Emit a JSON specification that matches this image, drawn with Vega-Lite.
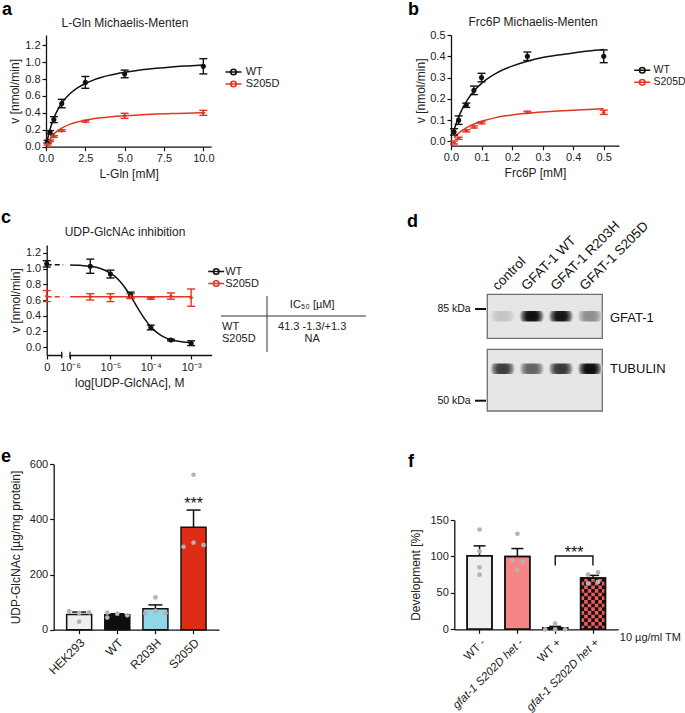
{
"$schema":"https://vega.github.io/schema/vega-lite/v6.json",
"width":685,"height":713,"autosize":"none","padding":0,"background":"white",
"config":{
 "font":"Liberation Sans",
 "view":{"stroke":null},
 "axis":{"grid":false,"domainColor":"#111111","domainWidth":1.3,"tickColor":"#111111","tickWidth":1.2,"tickSize":4,"labelFont":"Liberation Sans","labelFontSize":11,"labelColor":"#222222","titleFont":"Liberation Sans","titleFontSize":12,"titleFontWeight":"normal","titleColor":"#222222","labelPadding":2,"labelFlush":false,"labelOverlap":false},
 "legend":{"labelFont":"Liberation Sans","labelFontSize":11,"labelColor":"#222222"},
 "text":{"font":"Liberation Sans","color":"#222222"}
},
"datasets":{
 "a_pts":[
  {"genotype":"WT","conc":0.1,"v":0.06,"lo":0.045,"hi":0.075},
  {"genotype":"WT","conc":0.25,"v":0.17,"lo":0.15,"hi":0.19},
  {"genotype":"WT","conc":0.5,"v":0.32,"lo":0.285,"hi":0.355},
  {"genotype":"WT","conc":1,"v":0.51,"lo":0.46,"hi":0.56},
  {"genotype":"WT","conc":2.5,"v":0.76,"lo":0.69,"hi":0.83},
  {"genotype":"WT","conc":5,"v":0.86,"lo":0.815,"hi":0.905},
  {"genotype":"WT","conc":10,"v":0.95,"lo":0.86,"hi":1.04},
  {"genotype":"S205D","conc":0.1,"v":0.03,"lo":0.02,"hi":0.04},
  {"genotype":"S205D","conc":0.25,"v":0.07,"lo":0.06,"hi":0.08},
  {"genotype":"S205D","conc":0.5,"v":0.12,"lo":0.11,"hi":0.13},
  {"genotype":"S205D","conc":1,"v":0.19,"lo":0.18,"hi":0.2},
  {"genotype":"S205D","conc":2.5,"v":0.3,"lo":0.29,"hi":0.31},
  {"genotype":"S205D","conc":5,"v":0.365,"lo":0.335,"hi":0.395},
  {"genotype":"S205D","conc":10,"v":0.4,"lo":0.37,"hi":0.43}
 ],
 "a_fit":[
  {"genotype":"WT","conc":0.1,"v":0.091},{"genotype":"WT","conc":0.25,"v":0.201},{"genotype":"WT","conc":0.5,"v":0.339},{"genotype":"WT","conc":0.75,"v":0.439},{"genotype":"WT","conc":1,"v":0.514},{"genotype":"WT","conc":1.5,"v":0.622},{"genotype":"WT","conc":2,"v":0.695},{"genotype":"WT","conc":2.5,"v":0.747},{"genotype":"WT","conc":3,"v":0.787},{"genotype":"WT","conc":3.5,"v":0.818},{"genotype":"WT","conc":4,"v":0.843},{"genotype":"WT","conc":5,"v":0.88},{"genotype":"WT","conc":6,"v":0.907},{"genotype":"WT","conc":7,"v":0.927},{"genotype":"WT","conc":8,"v":0.943},{"genotype":"WT","conc":9,"v":0.955},{"genotype":"WT","conc":10,"v":0.966},
  {"genotype":"S205D","conc":0.1,"v":0.04},{"genotype":"S205D","conc":0.25,"v":0.088},{"genotype":"S205D","conc":0.5,"v":0.147},{"genotype":"S205D","conc":0.75,"v":0.189},{"genotype":"S205D","conc":1,"v":0.22},{"genotype":"S205D","conc":1.5,"v":0.264},{"genotype":"S205D","conc":2,"v":0.293},{"genotype":"S205D","conc":2.5,"v":0.314},{"genotype":"S205D","conc":3,"v":0.33},{"genotype":"S205D","conc":3.5,"v":0.342},{"genotype":"S205D","conc":4,"v":0.352},{"genotype":"S205D","conc":5,"v":0.367},{"genotype":"S205D","conc":6,"v":0.377},{"genotype":"S205D","conc":7,"v":0.385},{"genotype":"S205D","conc":8,"v":0.391},{"genotype":"S205D","conc":9,"v":0.396},{"genotype":"S205D","conc":10,"v":0.4}
 ],
 "b_pts":[
  {"genotype":"WT","conc":0.01,"v":0.045,"lo":0.03,"hi":0.06},
  {"genotype":"WT","conc":0.025,"v":0.1,"lo":0.08,"hi":0.12},
  {"genotype":"WT","conc":0.05,"v":0.17,"lo":0.16,"hi":0.18},
  {"genotype":"WT","conc":0.075,"v":0.24,"lo":0.22,"hi":0.26},
  {"genotype":"WT","conc":0.1,"v":0.3,"lo":0.28,"hi":0.32},
  {"genotype":"WT","conc":0.25,"v":0.4,"lo":0.38,"hi":0.42},
  {"genotype":"WT","conc":0.5,"v":0.4,"lo":0.37,"hi":0.43},
  {"genotype":"S205D","conc":0.01,"v":-0.005,"lo":-0.012,"hi":0.002},
  {"genotype":"S205D","conc":0.025,"v":0.015,"lo":0.01,"hi":0.02},
  {"genotype":"S205D","conc":0.05,"v":0.05,"lo":0.045,"hi":0.055},
  {"genotype":"S205D","conc":0.075,"v":0.068,"lo":0.063,"hi":0.073},
  {"genotype":"S205D","conc":0.1,"v":0.088,"lo":0.083,"hi":0.093},
  {"genotype":"S205D","conc":0.25,"v":0.137,"lo":0.132,"hi":0.142},
  {"genotype":"S205D","conc":0.5,"v":0.137,"lo":0.127,"hi":0.147}
 ],
 "b_fit":[
  {"genotype":"WT","conc":0.01,"v":0.053},{"genotype":"WT","conc":0.02,"v":0.096},{"genotype":"WT","conc":0.03,"v":0.132},{"genotype":"WT","conc":0.05,"v":0.187},{"genotype":"WT","conc":0.075,"v":0.237},{"genotype":"WT","conc":0.1,"v":0.273},{"genotype":"WT","conc":0.15,"v":0.322},{"genotype":"WT","conc":0.2,"v":0.354},{"genotype":"WT","conc":0.25,"v":0.377},{"genotype":"WT","conc":0.3,"v":0.394},{"genotype":"WT","conc":0.35,"v":0.406},{"genotype":"WT","conc":0.4,"v":0.416},{"genotype":"WT","conc":0.45,"v":0.425},{"genotype":"WT","conc":0.5,"v":0.432},
  {"genotype":"S205D","conc":0.01,"v":0.018},{"genotype":"S205D","conc":0.02,"v":0.033},{"genotype":"S205D","conc":0.03,"v":0.045},{"genotype":"S205D","conc":0.05,"v":0.064},{"genotype":"S205D","conc":0.075,"v":0.082},{"genotype":"S205D","conc":0.1,"v":0.095},{"genotype":"S205D","conc":0.15,"v":0.113},{"genotype":"S205D","conc":0.2,"v":0.124},{"genotype":"S205D","conc":0.25,"v":0.132},{"genotype":"S205D","conc":0.3,"v":0.138},{"genotype":"S205D","conc":0.35,"v":0.143},{"genotype":"S205D","conc":0.4,"v":0.147},{"genotype":"S205D","conc":0.45,"v":0.15},{"genotype":"S205D","conc":0.5,"v":0.153}
 ],
 "c_pts":[
  {"genotype":"WT","logc":-6.58,"v":1.06,"lo":1.02,"hi":1.1},
  {"genotype":"WT","logc":-5.5,"v":1.03,"lo":0.94,"hi":1.12},
  {"genotype":"WT","logc":-5,"v":0.93,"lo":0.88,"hi":0.98},
  {"genotype":"WT","logc":-4.5,"v":0.66,"lo":0.62,"hi":0.7},
  {"genotype":"WT","logc":-4,"v":0.25,"lo":0.22,"hi":0.28},
  {"genotype":"WT","logc":-3.5,"v":0.09,"lo":0.08,"hi":0.1},
  {"genotype":"WT","logc":-3,"v":0.05,"lo":0.02,"hi":0.08},
  {"genotype":"S205D","logc":-6.58,"v":0.65,"lo":0.58,"hi":0.72},
  {"genotype":"S205D","logc":-5.5,"v":0.64,"lo":0.6,"hi":0.68},
  {"genotype":"S205D","logc":-5,"v":0.63,"lo":0.58,"hi":0.68},
  {"genotype":"S205D","logc":-4.5,"v":0.65,"lo":0.62,"hi":0.68},
  {"genotype":"S205D","logc":-4,"v":0.62,"lo":0.61,"hi":0.63},
  {"genotype":"S205D","logc":-3.5,"v":0.65,"lo":0.61,"hi":0.69},
  {"genotype":"S205D","logc":-3,"v":0.63,"lo":0.52,"hi":0.74}
 ],
 "c_fit":[
  {"genotype":"WT","logc":-6,"v":1.047},{"genotype":"WT","logc":-5.75,"v":1.041},{"genotype":"WT","logc":-5.5,"v":1.029},{"genotype":"WT","logc":-5.25,"v":1.002},{"genotype":"WT","logc":-5,"v":0.943},{"genotype":"WT","logc":-4.875,"v":0.895},{"genotype":"WT","logc":-4.75,"v":0.83},{"genotype":"WT","logc":-4.625,"v":0.747},{"genotype":"WT","logc":-4.5,"v":0.649},{"genotype":"WT","logc":-4.375,"v":0.542},{"genotype":"WT","logc":-4.25,"v":0.436},{"genotype":"WT","logc":-4.125,"v":0.34},{"genotype":"WT","logc":-4,"v":0.26},{"genotype":"WT","logc":-3.875,"v":0.197},{"genotype":"WT","logc":-3.75,"v":0.151},{"genotype":"WT","logc":-3.625,"v":0.118},{"genotype":"WT","logc":-3.5,"v":0.095},{"genotype":"WT","logc":-3.25,"v":0.07},{"genotype":"WT","logc":-3,"v":0.058},
  {"genotype":"S205D","logc":-6,"v":0.64},{"genotype":"S205D","logc":-3,"v":0.64}
 ],
 "c_zero":[
  {"genotype":"WT","logc":-6.58,"v":1.05},{"genotype":"WT","logc":-6.17,"v":1.05},
  {"genotype":"S205D","logc":-6.58,"v":0.64},{"genotype":"S205D","logc":-6.17,"v":0.64}
 ],
 "blot":[
  {"protein":"GFAT-1","lane":1,"sample":"control","intensity":0.15},
  {"protein":"GFAT-1","lane":2,"sample":"GFAT-1 WT","intensity":1},
  {"protein":"GFAT-1","lane":3,"sample":"GFAT-1 R203H","intensity":0.97},
  {"protein":"GFAT-1","lane":4,"sample":"GFAT-1 S205D","intensity":0.4},
  {"protein":"TUBULIN","lane":1,"sample":"control","intensity":0.78},
  {"protein":"TUBULIN","lane":2,"sample":"GFAT-1 WT","intensity":0.6},
  {"protein":"TUBULIN","lane":3,"sample":"GFAT-1 R203H","intensity":0.8},
  {"protein":"TUBULIN","lane":4,"sample":"GFAT-1 S205D","intensity":1}
 ],
 "e_bars":[
  {"group":"HEK293","mean":55,"upper":64},
  {"group":"WT","mean":54,"upper":58},
  {"group":"R203H","mean":76,"upper":90},
  {"group":"S205D","mean":371.5,"upper":434}
 ],
 "e_pts":[
  {"group":"HEK293","slot":"L","value":67},{"group":"HEK293","slot":"C","value":61},{"group":"HEK293","slot":"C","value":29},{"group":"HEK293","slot":"R","value":63},
  {"group":"WT","slot":"L","value":62},{"group":"WT","slot":"L","value":44},{"group":"WT","slot":"C","value":58},{"group":"WT","slot":"R","value":52},
  {"group":"R203H","slot":"L","value":59},{"group":"R203H","slot":"C","value":68},{"group":"R203H","slot":"C","value":117},{"group":"R203H","slot":"R","value":60},
  {"group":"S205D","slot":"L","value":301},{"group":"S205D","slot":"C","value":316},{"group":"S205D","slot":"R","value":307},{"group":"S205D","slot":"C","value":562}
 ],
 "f_bars":[
  {"group":"WT -","mean":101,"upper":114.5},
  {"group":"gfat-1 S202D het -","mean":100,"upper":110.8},
  {"group":"WT +","mean":2,"upper":4},
  {"group":"gfat-1 S202D het +","mean":70.3,"upper":74}
 ],
 "f_pts":[
  {"group":"WT -","slot":"C","value":137},{"group":"WT -","slot":"C","value":107},{"group":"WT -","slot":"C","value":85},{"group":"WT -","slot":"C","value":75},
  {"group":"gfat-1 S202D het -","slot":"C","value":131},{"group":"gfat-1 S202D het -","slot":"l","value":95},{"group":"gfat-1 S202D het -","slot":"r","value":93},{"group":"gfat-1 S202D het -","slot":"C","value":81},
  {"group":"WT +","slot":"L","value":0},{"group":"WT +","slot":"C","value":8},{"group":"WT +","slot":"C","value":0},{"group":"WT +","slot":"R","value":0},
  {"group":"gfat-1 S202D het +","slot":"l","value":75},{"group":"gfat-1 S202D het +","slot":"r","value":78},{"group":"gfat-1 S202D het +","slot":"l","value":63},{"group":"gfat-1 S202D het +","slot":"r","value":65}
 ]
},
"layer":[
 {"layer":[
  {"data":{"name":"a_fit"},"mark":{"type":"line","strokeWidth":1.5,"interpolate":"monotone"},
   "encoding":{
    "x":{"field":"conc","type":"quantitative","scale":{"domain":[0,10.5],"range":[46,211.2],"nice":false,"zero":false},"axis":{"orient":"bottom","offset":-566.3,"values":[0,2.5,5,7.5,10],"format":".1f","title":"L-Gln [mM]","titlePadding":5}},
    "y":{"field":"v","type":"quantitative","scale":{"domain":[0,1.32],"range":[146.7,35],"nice":false,"zero":false},"axis":{"orient":"left","offset":-46,"values":[0,0.2,0.4,0.6,0.8,1,1.2],"format":".1f","title":"v [nmol/min]","titlePadding":3}},
    "color":{"field":"genotype","type":"nominal","scale":{"domain":["WT","S205D"],"range":["#111111","#e63322"]},"legend":{"orient":"none","legendX":228,"legendY":66.5,"title":null,"symbolType":"M-2,0L2,0M-0.7,0A0.7,0.7,0,1,1,0.7,0A0.7,0.7,0,1,1,-0.7,0Z","symbolSize":64,"symbolStrokeWidth":1.6,"labelOffset":6.7,"rowPadding":-1,"padding":0}}}},
  {"data":{"name":"a_pts"},"mark":{"type":"rule","strokeWidth":1.4},"encoding":{"x":{"field":"conc","type":"quantitative"},"y":{"field":"lo","type":"quantitative"},"y2":{"field":"hi"},"color":{"field":"genotype","type":"nominal"}}},
  {"data":{"name":"a_pts"},"mark":{"type":"point","shape":"stroke","size":64,"strokeWidth":1.4,"opacity":1},"encoding":{"x":{"field":"conc","type":"quantitative"},"y":{"field":"lo","type":"quantitative"},"color":{"field":"genotype","type":"nominal"}}},
  {"data":{"name":"a_pts"},"mark":{"type":"point","shape":"stroke","size":64,"strokeWidth":1.4,"opacity":1},"encoding":{"x":{"field":"conc","type":"quantitative"},"y":{"field":"hi","type":"quantitative"},"color":{"field":"genotype","type":"nominal"}}},
  {"data":{"name":"a_pts"},"transform":[{"filter":"datum.genotype == 'WT'"}],"mark":{"type":"point","shape":"circle","filled":true,"size":26,"opacity":1,"color":"#111111"},"encoding":{"x":{"field":"conc","type":"quantitative"},"y":{"field":"v","type":"quantitative"}}},
  {"data":{"name":"a_pts"},"transform":[{"filter":"datum.genotype == 'S205D'"}],"mark":{"type":"point","shape":"diamond","filled":true,"size":18,"opacity":1,"color":"#e63322"},"encoding":{"x":{"field":"conc","type":"quantitative"},"y":{"field":"v","type":"quantitative"}}},
  {"data":{"values":[{}]},"mark":{"type":"text","text":"L-Gln Michaelis-Menten","fontSize":12,"align":"center","baseline":"middle"},"encoding":{"x":{"datum":5.02,"type":"quantitative"},"y":{"datum":1.462,"type":"quantitative"}}}
 ]},
 {"layer":[
  {"data":{"name":"b_fit"},"mark":{"type":"line","strokeWidth":1.5,"interpolate":"monotone"},
   "encoding":{
    "x":{"field":"conc","type":"quantitative","scale":{"domain":[0,0.55],"range":[451,619],"nice":false,"zero":false},"axis":{"orient":"bottom","offset":-567.3,"values":[0,0.1,0.2,0.3,0.4,0.5],"format":".1f","title":"Frc6P [mM]","titlePadding":5}},
    "y":{"field":"v","type":"quantitative","scale":{"domain":[-0.02,0.5],"range":[145.7,35],"nice":false,"zero":false},"axis":{"orient":"left","offset":-451,"values":[0,0.1,0.2,0.3,0.4,0.5],"format":".1f","title":"v [nmol/min]","titlePadding":2}},
    "color":{"field":"genotype","type":"nominal","scale":{"domain":["WT","S205D"],"range":["#111111","#e63322"]},"legend":{"orient":"none","legendX":637,"legendY":65,"title":null,"symbolType":"M-2,0L2,0M-0.7,0A0.7,0.7,0,1,1,0.7,0A0.7,0.7,0,1,1,-0.7,0Z","symbolSize":64,"symbolStrokeWidth":1.6,"labelOffset":6,"labelFontSize":10.5,"rowPadding":-1,"padding":0}}}},
  {"data":{"name":"b_pts"},"mark":{"type":"rule","strokeWidth":1.4},"encoding":{"x":{"field":"conc","type":"quantitative"},"y":{"field":"lo","type":"quantitative"},"y2":{"field":"hi"},"color":{"field":"genotype","type":"nominal"}}},
  {"data":{"name":"b_pts"},"mark":{"type":"point","shape":"stroke","size":64,"strokeWidth":1.4,"opacity":1},"encoding":{"x":{"field":"conc","type":"quantitative"},"y":{"field":"lo","type":"quantitative"},"color":{"field":"genotype","type":"nominal"}}},
  {"data":{"name":"b_pts"},"mark":{"type":"point","shape":"stroke","size":64,"strokeWidth":1.4,"opacity":1},"encoding":{"x":{"field":"conc","type":"quantitative"},"y":{"field":"hi","type":"quantitative"},"color":{"field":"genotype","type":"nominal"}}},
  {"data":{"name":"b_pts"},"transform":[{"filter":"datum.genotype == 'WT'"}],"mark":{"type":"point","shape":"circle","filled":true,"size":26,"opacity":1,"color":"#111111"},"encoding":{"x":{"field":"conc","type":"quantitative"},"y":{"field":"v","type":"quantitative"}}},
  {"data":{"name":"b_pts"},"transform":[{"filter":"datum.genotype == 'S205D'"}],"mark":{"type":"point","shape":"diamond","filled":true,"size":18,"opacity":1,"color":"#e63322"},"encoding":{"x":{"field":"conc","type":"quantitative"},"y":{"field":"v","type":"quantitative"}}},
  {"data":{"values":[{}]},"mark":{"type":"text","text":"Frc6P Michaelis-Menten","fontSize":12,"align":"center","baseline":"middle"},"encoding":{"x":{"datum":0.2685,"type":"quantitative"},"y":{"datum":0.561,"type":"quantitative"}}}
 ]},
 {"layer":[
  {"data":{"name":"c_fit"},"mark":{"type":"line","strokeWidth":1.5,"interpolate":"monotone"},
   "encoding":{
    "x":{"field":"logc","type":"quantitative","scale":{"domain":[-6.58,-2.49],"range":[46.7,211.7],"nice":false,"zero":false},"axis":{"orient":"bottom","offset":-358,"values":[-6.58,-6,-5,-4,-3],"labelExpr":"datum.value < -6.5 ? '0' : datum.value == -6 ? '10⁻⁶' : datum.value == -5 ? '10⁻⁵' : datum.value == -4 ? '10⁻⁴' : '10⁻³'","title":"log[UDP-GlcNAc], M","titlePadding":5}},
    "y":{"field":"v","type":"quantitative","scale":{"domain":[-0.1,1.3],"range":[355,245],"nice":false,"zero":false},"axis":{"orient":"left","offset":-46.7,"values":[0,0.2,0.4,0.6,0.8,1,1.2],"format":".1f","title":"v [nmol/min]","titlePadding":3}},
    "color":{"field":"genotype","type":"nominal","scale":{"domain":["WT","S205D"],"range":["#111111","#e63322"]},"legend":{"orient":"none","legendX":210.7,"legendY":266,"title":null,"symbolType":"M-2,0L2,0M-0.7,0A0.7,0.7,0,1,1,0.7,0A0.7,0.7,0,1,1,-0.7,0Z","symbolSize":64,"symbolStrokeWidth":1.6,"labelOffset":3.5,"rowPadding":-9,"padding":0}}}},
  {"data":{"name":"c_zero"},"mark":{"type":"line","strokeWidth":1.5,"strokeDash":[5,3]},"encoding":{"x":{"field":"logc","type":"quantitative"},"y":{"field":"v","type":"quantitative"},"color":{"field":"genotype","type":"nominal"}}},
  {"data":{"values":[{}]},"mark":{"type":"point","filled":true,"opacity":1,"color":"#ffffff","strokeWidth":0,"size":68.9,"shape":"M-0.85,-0.4L0.85,-0.4L0.85,0.4L-0.85,0.4Z"},"encoding":{"x":{"datum":-6.105,"type":"quantitative"},"y":{"datum":-0.1,"type":"quantitative"}}},
  {"data":{"values":[{}]},"mark":{"type":"point","filled":false,"opacity":1,"color":"#111111","strokeWidth":1.3,"size":68.9,"shape":"M-1,-0.8L-1,0.8M1,-0.8L1,0.8"},"encoding":{"x":{"datum":-6.105,"type":"quantitative"},"y":{"datum":-0.1,"type":"quantitative"}}},
  {"data":{"name":"c_pts"},"mark":{"type":"rule","strokeWidth":1.4},"encoding":{"x":{"field":"logc","type":"quantitative"},"y":{"field":"lo","type":"quantitative"},"y2":{"field":"hi"},"color":{"field":"genotype","type":"nominal"}}},
  {"data":{"name":"c_pts"},"mark":{"type":"point","shape":"stroke","size":64,"strokeWidth":1.4,"opacity":1},"encoding":{"x":{"field":"logc","type":"quantitative"},"y":{"field":"lo","type":"quantitative"},"color":{"field":"genotype","type":"nominal"}}},
  {"data":{"name":"c_pts"},"mark":{"type":"point","shape":"stroke","size":64,"strokeWidth":1.4,"opacity":1},"encoding":{"x":{"field":"logc","type":"quantitative"},"y":{"field":"hi","type":"quantitative"},"color":{"field":"genotype","type":"nominal"}}},
  {"data":{"name":"c_pts"},"transform":[{"filter":"datum.genotype == 'WT'"}],"mark":{"type":"point","shape":"circle","filled":true,"size":26,"opacity":1,"color":"#111111"},"encoding":{"x":{"field":"logc","type":"quantitative"},"y":{"field":"v","type":"quantitative"}}},
  {"data":{"name":"c_pts"},"transform":[{"filter":"datum.genotype == 'S205D'"}],"mark":{"type":"point","shape":"diamond","filled":true,"size":18,"opacity":1,"color":"#e63322"},"encoding":{"x":{"field":"logc","type":"quantitative"},"y":{"field":"v","type":"quantitative"}}},
  {"data":{"values":[{}]},"mark":{"type":"text","text":"UDP-GlcNAc inhibition","fontSize":12,"align":"center","baseline":"middle"},"encoding":{"x":{"datum":-4.639,"type":"quantitative"},"y":{"datum":1.465,"type":"quantitative"}}},
  {"data":{"values":[{}]},"mark":{"type":"point","shape":"stroke","filled":false,"opacity":1,"color":"#333333","strokeWidth":1,"size":21025},"encoding":{"x":{"datum":-0.462,"type":"quantitative"},"y":{"datum":0.396,"type":"quantitative"}}},
  {"data":{"values":[{}]},"mark":{"type":"point","shape":"M0,-1L0,1","filled":false,"opacity":1,"color":"#333333","strokeWidth":1,"size":3136},"encoding":{"x":{"datum":-1.119,"type":"quantitative"},"y":{"datum":0.2946,"type":"quantitative"}}},
  {"data":{"values":[{}]},"mark":{"type":"text","text":"IC₅₀ [µM]","fontSize":11,"align":"center","baseline":"middle"},"encoding":{"x":{"datum":0,"type":"quantitative"},"y":{"datum":0.536,"type":"quantitative"}}},
  {"data":{"values":[{}]},"mark":{"type":"text","text":"WT","fontSize":11,"align":"left","baseline":"middle"},"encoding":{"x":{"datum":-2.234,"type":"quantitative"},"y":{"datum":0.256,"type":"quantitative"}}},
  {"data":{"values":[{}]},"mark":{"type":"text","text":"S205D","fontSize":11,"align":"left","baseline":"middle"},"encoding":{"x":{"datum":-2.234,"type":"quantitative"},"y":{"datum":0.11,"type":"quantitative"}}},
  {"data":{"values":[{}]},"mark":{"type":"text","text":"41.3 -1.3/+1.3","fontSize":11,"align":"center","baseline":"middle"},"encoding":{"x":{"datum":0,"type":"quantitative"},"y":{"datum":0.256,"type":"quantitative"}}},
  {"data":{"values":[{}]},"mark":{"type":"text","text":"NA","fontSize":11,"align":"center","baseline":"middle"},"encoding":{"x":{"datum":0,"type":"quantitative"},"y":{"datum":0.11,"type":"quantitative"}}}
 ]},
 {"layer":[
  {"data":{"values":[{}]},"mark":{"type":"point","filled":true,"opacity":1,"fill":"#e6e6e6","stroke":"#707070","strokeWidth":1.3,"size":13225,"shape":"M-1,-0.3826L1,-0.3826L1,0.3826L-1,0.3826Z"},"encoding":{"x":{"datum":2.446,"type":"quantitative","scale":{"domain":[-0.81,4.96],"range":[450,618],"nice":false,"zero":false},"axis":null},"y":{"datum":45.09,"type":"quantitative","scale":{"domain":[0,100],"range":[420,190],"nice":false,"zero":false},"axis":null}}},
  {"data":{"values":[{}]},"mark":{"type":"point","filled":true,"opacity":1,"fill":"#e6e6e6","stroke":"#707070","strokeWidth":1.3,"size":13225,"shape":"M-1,-0.5365L1,-0.5365L1,0.5365L-1,0.5365Z"},"encoding":{"x":{"datum":2.446,"type":"quantitative"},"y":{"datum":17.33,"type":"quantitative"}}},
  {"data":{"name":"blot"},"transform":[{"filter":"datum.protein == 'GFAT-1'"}],"mark":{"type":"point","filled":true,"size":625,"strokeWidth":0,"shape":"M-0.8,-0.42L0.8,-0.42Q1,-0.42,1,0Q1,0.42,0.8,0.42L-0.8,0.42Q-1,0.42,-1,0Q-1,-0.42,-0.8,-0.42Z","fill":{"gradient":"radial","stops":[{"offset":0,"color":"#0a0a0a"},{"offset":0.45,"color":"#161616"},{"offset":0.75,"color":"#6a6a6a"},{"offset":1,"color":"#e6e6e6"}]}},"encoding":{"x":{"field":"lane","type":"quantitative"},"y":{"datum":45.1,"type":"quantitative"},"opacity":{"field":"intensity","type":"quantitative","scale":{"domain":[0,1],"range":[0,1]},"legend":null}}},
  {"data":{"name":"blot"},"transform":[{"filter":"datum.protein == 'TUBULIN'"}],"mark":{"type":"point","filled":true,"size":625,"strokeWidth":0,"shape":"M-0.8,-0.42L0.8,-0.42Q1,-0.42,1,0Q1,0.42,0.8,0.42L-0.8,0.42Q-1,0.42,-1,0Q-1,-0.42,-0.8,-0.42Z","fill":{"gradient":"radial","stops":[{"offset":0,"color":"#0a0a0a"},{"offset":0.45,"color":"#161616"},{"offset":0.75,"color":"#6a6a6a"},{"offset":1,"color":"#e6e6e6"}]}},"encoding":{"x":{"field":"lane","type":"quantitative"},"y":{"datum":22.3,"type":"quantitative"},"opacity":{"field":"intensity","type":"quantitative","legend":null}}},
  {"data":{"name":"blot"},"transform":[{"filter":"datum.protein == 'GFAT-1'"}],"mark":{"type":"text","angle":315,"align":"left","baseline":"alphabetic","fontSize":13.5,"xOffset":-5,"color":"#111111"},"encoding":{"x":{"field":"lane","type":"quantitative"},"y":{"datum":56.1,"type":"quantitative"},"text":{"field":"sample"}}},
  {"data":{"values":[{}]},"mark":{"type":"text","text":"GFAT-1","fontSize":13,"align":"left","baseline":"middle","color":"#111111"},"encoding":{"x":{"datum":4.685,"type":"quantitative"},"y":{"datum":44.48,"type":"quantitative"}}},
  {"data":{"values":[{}]},"mark":{"type":"text","text":"TUBULIN","fontSize":13,"align":"left","baseline":"middle","color":"#111111"},"encoding":{"x":{"datum":4.685,"type":"quantitative"},"y":{"datum":22.04,"type":"quantitative"}}},
  {"data":{"values":[{}]},"mark":{"type":"text","text":"85 kDa","fontSize":10.5,"align":"right","baseline":"middle","color":"#111111"},"encoding":{"x":{"datum":-0.099,"type":"quantitative"},"y":{"datum":48.26,"type":"quantitative"}}},
  {"data":{"values":[{}]},"mark":{"type":"text","text":"50 kDa","fontSize":10.5,"align":"right","baseline":"middle","color":"#111111"},"encoding":{"x":{"datum":-0.099,"type":"quantitative"},"y":{"datum":8.39,"type":"quantitative"}}},
  {"data":{"values":[{}]},"mark":{"type":"point","shape":"stroke","filled":false,"opacity":1,"color":"#111111","strokeWidth":2,"size":121},"encoding":{"x":{"datum":0.2375,"type":"quantitative"},"y":{"datum":48.26,"type":"quantitative"}}},
  {"data":{"values":[{}]},"mark":{"type":"point","shape":"stroke","filled":false,"opacity":1,"color":"#111111","strokeWidth":2,"size":121},"encoding":{"x":{"datum":0.2375,"type":"quantitative"},"y":{"datum":8.39,"type":"quantitative"}}}
 ]},
 {"layer":[
  {"data":{"name":"e_bars"},"mark":{"type":"bar","stroke":"#111111","strokeWidth":1.5},
   "encoding":{
    "x":{"field":"group","type":"nominal","sort":null,"scale":{"domain":["HEK293","WT","R203H","S205D"],"range":[53.7,219],"paddingInner":0.344,"paddingOuter":0.34},"axis":{"orient":"bottom","offset":-83.3,"title":null,"labelAngle":-45,"labelAlign":"right","labelBaseline":"top","labelFontSize":12,"labelPadding":3}},
    "y":{"field":"mean","type":"quantitative","scale":{"domain":[0,600],"range":[629.7,464.3],"nice":false,"zero":false},"axis":{"orient":"left","offset":-53.7,"values":[0,200,400,600],"title":"UDP-GlcNAc [µg/mg protein]","titlePadding":7}},
    "fill":{"field":"group","type":"nominal","scale":{"domain":["HEK293","WT","R203H","S205D"],"range":["#efefef","#0d0d0d","#8fd6e6","#de2d14"]},"legend":null}}},
  {"data":{"name":"e_bars"},"mark":{"type":"rule","strokeWidth":1.5,"color":"#111111"},"encoding":{"x":{"field":"group","type":"nominal"},"y":{"field":"mean","type":"quantitative"},"y2":{"field":"upper"}}},
  {"data":{"name":"e_bars"},"mark":{"type":"point","shape":"stroke","size":196,"strokeWidth":1.5,"color":"#111111","opacity":1},"encoding":{"x":{"field":"group","type":"nominal"},"y":{"field":"upper","type":"quantitative"}}},
  {"data":{"name":"e_pts"},"transform":[{"filter":"datum.slot == 'L'"}],"mark":{"type":"point","shape":"circle","filled":true,"size":22,"color":"#b3b3b3","opacity":1,"xOffset":-10},"encoding":{"x":{"field":"group","type":"nominal"},"y":{"field":"value","type":"quantitative"}}},
  {"data":{"name":"e_pts"},"transform":[{"filter":"datum.slot == 'C'"}],"mark":{"type":"point","shape":"circle","filled":true,"size":22,"color":"#b3b3b3","opacity":1},"encoding":{"x":{"field":"group","type":"nominal"},"y":{"field":"value","type":"quantitative"}}},
  {"data":{"name":"e_pts"},"transform":[{"filter":"datum.slot == 'R'"}],"mark":{"type":"point","shape":"circle","filled":true,"size":22,"color":"#b3b3b3","opacity":1,"xOffset":10},"encoding":{"x":{"field":"group","type":"nominal"},"y":{"field":"value","type":"quantitative"}}},
  {"data":{"values":[{}]},"mark":{"type":"text","text":"***","fontSize":16,"align":"center","baseline":"alphabetic","color":"#111111"},"encoding":{"x":{"datum":"S205D","type":"nominal"},"y":{"datum":439,"type":"quantitative"}}}
 ]},
 {"layer":[
  {"data":{"name":"f_bars"},"mark":{"type":"bar","stroke":"#111111","strokeWidth":1.5},
   "encoding":{
    "x":{"field":"group","type":"nominal","sort":null,"scale":{"domain":["WT -","gfat-1 S202D het -","WT +","gfat-1 S202D het +"],"range":[454.3,618.3],"paddingInner":0.344,"paddingOuter":0.34},"axis":{"orient":"bottom","offset":-83.7,"title":"10 µg/ml TM","titleAngle":0,"titleX":619.3,"titleY":8.4,"titleAlign":"left","titleBaseline":"middle","titleFontSize":11,"labelAngle":-45,"labelAlign":"right","labelBaseline":"top","labelFontSize":11.5,"labelPadding":3,"labelFontStyle":{"condition":{"test":"indexof(datum.value, 'gfat') >= 0","value":"italic"},"value":"normal"}}},
    "y":{"field":"mean","type":"quantitative","scale":{"domain":[0,150],"range":[629.3,520],"nice":false,"zero":false},"axis":{"orient":"left","offset":-454.3,"values":[0,50,100,150],"title":"Development [%]","titlePadding":7}},
    "fill":{"field":"group","type":"nominal","scale":{"domain":["WT -","gfat-1 S202D het -","WT +","gfat-1 S202D het +"],"range":["#efefef","#f88585","#111111","#f05a5a"]},"legend":null}}},
  {"data":{"values":[{}]},"mark":{"type":"point","filled":true,"opacity":1,"color":"#111111","strokeWidth":0,"size":50.41,"shape":"M-3.5,-7.21H-2.5V-6.18H-3.5ZM-1.5,-7.21H-0.5V-6.18H-1.5ZM0.5,-7.21H1.5V-6.18H0.5ZM2.5,-7.21H3.5V-6.18H2.5ZM-2.5,-6.18H-1.5V-5.15H-2.5ZM-0.5,-6.18H0.5V-5.15H-0.5ZM1.5,-6.18H2.5V-5.15H1.5ZM-3.5,-5.15H-2.5V-4.12H-3.5ZM-1.5,-5.15H-0.5V-4.12H-1.5ZM0.5,-5.15H1.5V-4.12H0.5ZM2.5,-5.15H3.5V-4.12H2.5ZM-2.5,-4.12H-1.5V-3.09H-2.5ZM-0.5,-4.12H0.5V-3.09H-0.5ZM1.5,-4.12H2.5V-3.09H1.5ZM-3.5,-3.09H-2.5V-2.06H-3.5ZM-1.5,-3.09H-0.5V-2.06H-1.5ZM0.5,-3.09H1.5V-2.06H0.5ZM2.5,-3.09H3.5V-2.06H2.5ZM-2.5,-2.06H-1.5V-1.03H-2.5ZM-0.5,-2.06H0.5V-1.03H-0.5ZM1.5,-2.06H2.5V-1.03H1.5ZM-3.5,-1.03H-2.5V0H-3.5ZM-1.5,-1.03H-0.5V0H-1.5ZM0.5,-1.03H1.5V0H0.5ZM2.5,-1.03H3.5V0H2.5ZM-2.5,0H-1.5V1.03H-2.5ZM-0.5,0H0.5V1.03H-0.5ZM1.5,0H2.5V1.03H1.5ZM-3.5,1.03H-2.5V2.06H-3.5ZM-1.5,1.03H-0.5V2.06H-1.5ZM0.5,1.03H1.5V2.06H0.5ZM2.5,1.03H3.5V2.06H2.5ZM-2.5,2.06H-1.5V3.09H-2.5ZM-0.5,2.06H0.5V3.09H-0.5ZM1.5,2.06H2.5V3.09H1.5ZM-3.5,3.09H-2.5V4.12H-3.5ZM-1.5,3.09H-0.5V4.12H-1.5ZM0.5,3.09H1.5V4.12H0.5ZM2.5,3.09H3.5V4.12H2.5ZM-2.5,4.12H-1.5V5.15H-2.5ZM-0.5,4.12H0.5V5.15H-0.5ZM1.5,4.12H2.5V5.15H1.5ZM-3.5,5.15H-2.5V6.18H-3.5ZM-1.5,5.15H-0.5V6.18H-1.5ZM0.5,5.15H1.5V6.18H0.5ZM2.5,5.15H3.5V6.18H2.5ZM-2.5,6.18H-1.5V7.21H-2.5ZM-0.5,6.18H0.5V7.21H-0.5ZM1.5,6.18H2.5V7.21H1.5Z"},"encoding":{"x":{"datum":"gfat-1 S202D het +","type":"nominal"},"y":{"datum":35.15,"type":"quantitative"}}},
  {"data":{"name":"f_bars"},"mark":{"type":"bar","fillOpacity":0,"stroke":"#111111","strokeWidth":1.5},"encoding":{"x":{"field":"group","type":"nominal"},"y":{"field":"mean","type":"quantitative"}}},
  {"data":{"name":"f_bars"},"mark":{"type":"rule","strokeWidth":1.5,"color":"#111111"},"encoding":{"x":{"field":"group","type":"nominal"},"y":{"field":"mean","type":"quantitative"},"y2":{"field":"upper"}}},
  {"data":{"name":"f_bars"},"mark":{"type":"point","shape":"stroke","size":144,"strokeWidth":1.5,"color":"#111111","opacity":1},"encoding":{"x":{"field":"group","type":"nominal"},"y":{"field":"upper","type":"quantitative"}}},
  {"data":{"name":"f_pts"},"transform":[{"filter":"datum.slot == 'L'"}],"mark":{"type":"point","shape":"circle","filled":true,"size":22,"color":"#b3b3b3","opacity":1,"xOffset":-10},"encoding":{"x":{"field":"group","type":"nominal"},"y":{"field":"value","type":"quantitative"}}},
  {"data":{"name":"f_pts"},"transform":[{"filter":"datum.slot == 'l'"}],"mark":{"type":"point","shape":"circle","filled":true,"size":22,"color":"#b3b3b3","opacity":1,"xOffset":-5},"encoding":{"x":{"field":"group","type":"nominal"},"y":{"field":"value","type":"quantitative"}}},
  {"data":{"name":"f_pts"},"transform":[{"filter":"datum.slot == 'C'"}],"mark":{"type":"point","shape":"circle","filled":true,"size":22,"color":"#b3b3b3","opacity":1},"encoding":{"x":{"field":"group","type":"nominal"},"y":{"field":"value","type":"quantitative"}}},
  {"data":{"name":"f_pts"},"transform":[{"filter":"datum.slot == 'r'"}],"mark":{"type":"point","shape":"circle","filled":true,"size":22,"color":"#b3b3b3","opacity":1,"xOffset":5},"encoding":{"x":{"field":"group","type":"nominal"},"y":{"field":"value","type":"quantitative"}}},
  {"data":{"name":"f_pts"},"transform":[{"filter":"datum.slot == 'R'"}],"mark":{"type":"point","shape":"circle","filled":true,"size":22,"color":"#b3b3b3","opacity":1,"xOffset":10},"encoding":{"x":{"field":"group","type":"nominal"},"y":{"field":"value","type":"quantitative"}}},
  {"data":{"values":[{}]},"mark":{"type":"point","filled":false,"opacity":1,"color":"#111111","strokeWidth":1.4,"size":1421,"shape":"M-1,0.5L-1,0L1,0L1,0.5","xOffset":18.85},"encoding":{"x":{"datum":"WT +","type":"nominal"},"y":{"datum":100.6,"type":"quantitative"}}},
  {"data":{"values":[{}]},"mark":{"type":"text","text":"***","fontSize":16,"align":"center","baseline":"alphabetic","xOffset":18.85,"color":"#111111"},"encoding":{"x":{"datum":"WT +","type":"nominal"},"y":{"datum":98.4,"type":"quantitative"}}}
 ]},
 {"layer":[
  {"data":{"values":[{}]},"mark":{"type":"text","text":"a","fontSize":18,"fontWeight":"bold","align":"left","baseline":"alphabetic","color":"#000000"},"encoding":{"x":{"datum":0.0029,"type":"quantitative","scale":{"domain":[0,1],"range":[0,685],"nice":false,"zero":false},"axis":null},"y":{"datum":0.979,"type":"quantitative","scale":{"domain":[0,1],"range":[713,0],"nice":false,"zero":false},"axis":null}}},
  {"data":{"values":[{}]},"mark":{"type":"text","text":"b","fontSize":18,"fontWeight":"bold","align":"left","baseline":"alphabetic","color":"#000000"},"encoding":{"x":{"datum":0.5956,"type":"quantitative"},"y":{"datum":0.979,"type":"quantitative"}}},
  {"data":{"values":[{}]},"mark":{"type":"text","text":"c","fontSize":18,"fontWeight":"bold","align":"left","baseline":"alphabetic","color":"#000000"},"encoding":{"x":{"datum":0.0015,"type":"quantitative"},"y":{"datum":0.6872,"type":"quantitative"}}},
  {"data":{"values":[{}]},"mark":{"type":"text","text":"d","fontSize":18,"fontWeight":"bold","align":"left","baseline":"alphabetic","color":"#000000"},"encoding":{"x":{"datum":0.5942,"type":"quantitative"},"y":{"datum":0.6823,"type":"quantitative"}}},
  {"data":{"values":[{}]},"mark":{"type":"text","text":"e","fontSize":18,"fontWeight":"bold","align":"left","baseline":"alphabetic","color":"#000000"},"encoding":{"x":{"datum":0.0015,"type":"quantitative"},"y":{"datum":0.3527,"type":"quantitative"}}},
  {"data":{"values":[{}]},"mark":{"type":"text","text":"f","fontSize":18,"fontWeight":"bold","align":"left","baseline":"alphabetic","color":"#000000"},"encoding":{"x":{"datum":0.5956,"type":"quantitative"},"y":{"datum":0.3457,"type":"quantitative"}}}
 ]}
],
"resolve":{"scale":{"x":"independent","y":"independent","color":"independent","fill":"independent"},"axis":{"x":"independent","y":"independent"},"legend":{"color":"independent","fill":"independent"}}
}
